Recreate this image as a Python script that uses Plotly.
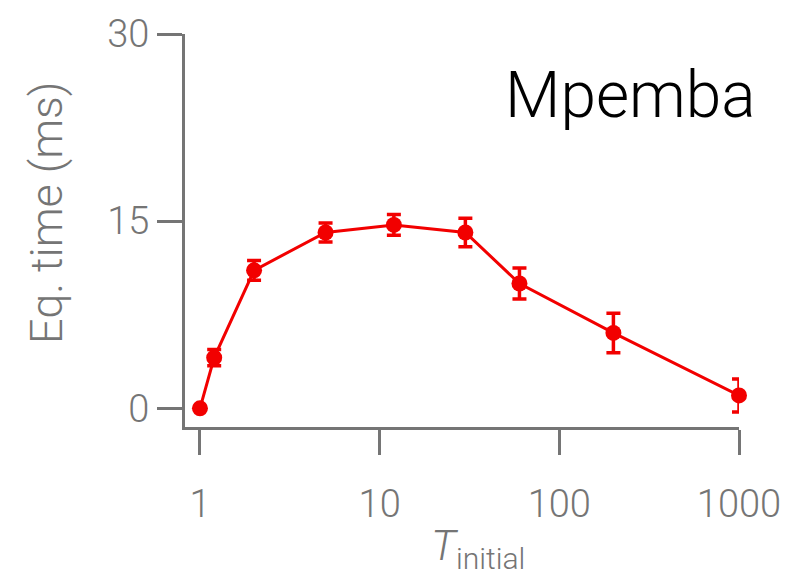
import plotly.graph_objects as go

# Initial temperature (log scale) vs. equilibration time
t_initial = [1, 1.2, 2, 5, 12, 30, 60, 200, 1000]
eq_time = [0.0, 4.06, 11.06, 14.09, 14.70, 14.09, 10.0, 6.04, 1.03]
eq_err = [0.0, 0.66, 0.79, 0.77, 0.83, 1.15, 1.24, 1.58, 1.32]

x_tick_vals = [1, 10, 100, 1000]
x_tick_text = ["1", "10", "100", "1000"]
y_tick_vals = [0, 15, 30]
y_tick_text = ["0", "15", "30"]

RED = "#f20000"
GREY = "#757575"
FONT = "Roboto"

W, H = 793, 582
L, R, T, B = 185, 53, 29, 155

fig = go.Figure()
fig.add_trace(go.Scatter(
    x=t_initial, y=eq_time,
    mode="lines+markers",
    line=dict(color=RED, width=3),
    marker=dict(color=RED, size=16),
    error_y=dict(type="data", array=eq_err, color=RED, thickness=3.5, width=7, visible=True),
    cliponaxis=False,
    showlegend=False,
))

axis_common = dict(
    showline=True, linecolor=GREY, linewidth=3,
    ticks="outside", ticklen=25, tickwidth=3, tickcolor=GREY,
    showgrid=False, zeroline=False,
    tickfont=dict(family=FONT, size=38, color=GREY, weight=300),
)

fig.update_layout(
    width=W, height=H,
    margin=dict(l=L, r=R, t=T, b=B),
    paper_bgcolor="white", plot_bgcolor="white",
    xaxis=dict(type="log", range=[-0.0833, 3.0],
               tickvals=x_tick_vals, ticktext=x_tick_text,
               ticklabelstandoff=16, **axis_common),
    yaxis=dict(range=[-1.5, 30.0],
               tickvals=y_tick_vals, ticktext=y_tick_text, **axis_common),
)

pw = W - L - R
ph = H - T - B

def px_x(x):
    return (x - L) / pw

def px_y(y):
    return (H - B - y) / ph

fig.add_annotation(
    text="Mpemba", xref="paper", yref="paper",
    x=px_x(759), y=px_y(91), xanchor="right", yanchor="middle",
    showarrow=False,
    font=dict(family=FONT, size=64, color="black", weight=300),
)
fig.add_annotation(
    text="Eq. time (ms)", xref="paper", yref="paper",
    x=px_x(46), y=px_y(210), xanchor="center", yanchor="middle",
    textangle=-90, showarrow=False,
    font=dict(family=FONT, size=45, color=GREY, weight=300),
)
fig.add_annotation(
    text="<i>T</i><sub>initial</sub>", xref="paper", yref="paper",
    x=px_x(479), y=px_y(550), xanchor="center", yanchor="middle",
    showarrow=False,
    font=dict(family=FONT, size=43, color=GREY, weight=300),
)

fig.write_html("out.html")
